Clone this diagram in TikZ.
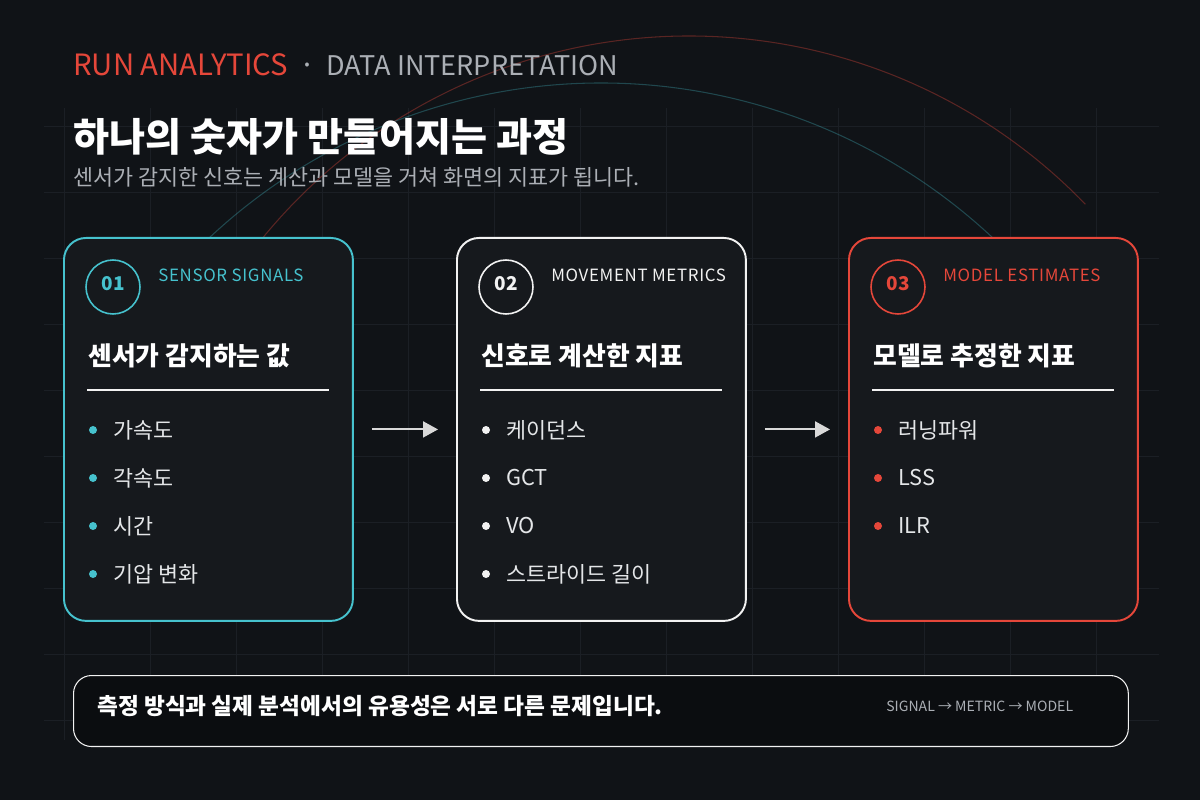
\documentclass[tikz,border=0pt]{standalone}
\usepackage{fontspec}
\setmainfont{Noto Sans CJK KR}
\usetikzlibrary{positioning,arrows.meta}

\definecolor{pagebg}{HTML}{101317}
\definecolor{cardbg}{HTML}{16191D}
\definecolor{barbg}{HTML}{0B0D10}
\definecolor{gridgray}{HTML}{1B1F25}
\definecolor{sensorteal}{HTML}{46C2CE}
\definecolor{metricwhite}{HTML}{F2F2F2}
\definecolor{modelred}{HTML}{E5473A}
\definecolor{mutedgray}{HTML}{ABAFB5}
\definecolor{itemgray}{HTML}{E4E6E8}
\definecolor{arrowgray}{HTML}{D9D9D9}

\begin{document}
\begin{tikzpicture}[
    x=0.02cm, y=-0.02cm,
    card/.style={draw=#1, fill=cardbg, line width=1.1pt, rounded corners=0.44cm,
        minimum width=5.78cm, minimum height=7.66cm, inner sep=0pt, anchor=north west},
    badge/.style={circle, draw=#1, text=#1, line width=0.9pt, minimum size=1.08cm,
        inner sep=0pt, text depth=0.16cm, font=\bfseries\fontsize{10.8}{12}\selectfont},
    tag/.style={text=#1, anchor=west, inner sep=0pt,
        font=\fontsize{9.6}{12}\selectfont\addfontfeatures{LetterSpace=4}},
    heading/.style={text=white, anchor=west, inner sep=0pt, font=\bfseries\fontsize{14.7}{17}\selectfont},
    bulletdot/.style={circle, fill=#1, inner sep=0pt, minimum size=0.16cm},
    itemtext/.style={text=itemgray, anchor=west, inner sep=0pt, font=\fontsize{12.4}{15}\selectfont},
    kicker/.style={inner sep=0pt, font=\fontsize{16.4}{20}\selectfont},
    flowarrow/.style={draw=arrowgray, line width=1.1pt, -{Triangle[length=0.3cm, width=0.32cm]}},
    gridline/.style={draw=gridgray, line width=0.5pt}
]
    % Background, grid and the two faint arcs
    \fill[pagebg] (0,0) rectangle (1200,800);
    \useasboundingbox (0,0) rectangle (1200,800);
    \foreach \gx in {64,150,...,1096} \draw[gridline] (\gx,108) -- (\gx,740);
    \foreach \gy in {126,192,...,720} \draw[gridline] (44,\gy) -- (1159,\gy);
    \draw[modelred, opacity=0.35, line width=0.6pt] ([shift={(689,587)}]-44:551) arc (-44:-142:551);
    \draw[sensorteal, opacity=0.3, line width=0.6pt] ([shift={(601,656)}]-40:573) arc (-40:-140:573);

    % Header
    \node[kicker, text=modelred, font=\fontsize{16.7}{20}\selectfont, anchor=base west] (kicker) at (73,76) {RUN ANALYTICS};
    \node[kicker, text=mutedgray, base right=0.22cm of kicker] (sep) {·};
    \node[kicker, text=mutedgray, font=\fontsize{15.4}{20}\selectfont, base right=0.2cm of sep] (section) {DATA INTERPRETATION};
    \node[anchor=base west, inner sep=0pt, text=white, font=\bfseries\fontsize{22.3}{26}\selectfont]
        (title) at (73,152) {하나의 숫자가 만들어지는 과정};
    \node[anchor=base west, inner sep=0pt, text=mutedgray, font=\fontsize{12.4}{15}\selectfont]
        (subtitle) at (73,186) {센서가 감지한 신호는 계산과 모델을 거쳐 화면의 지표가 됩니다.};

    % Three cards with their bullet lists
    \foreach \n/\x/\col/\tagtext/\head/\items in {
        1/63/sensorteal/SENSOR SIGNALS/센서가 감지하는 값/{가속도,각속도,시간,기압 변화},
        2/456/metricwhite/MOVEMENT METRICS/신호로 계산한 지표/{케이던스,GCT,VO,스트라이드 길이},
        3/848/modelred/MODEL ESTIMATES/모델로 추정한 지표/{러닝파워,LSS,ILR}} {
        \node[card=\col] (card\n) at (\x,237) {};
        \node[badge=\col] (badge\n) at (\x+50,287) {0\n};
        \node[tag=\col] (tag\n) at (\x+95,275) {\tagtext};
        \node[heading] (head\n) at (\x+25,356) {\head};
        \draw[metricwhite, line width=0.6pt] (\x+24,390) -- (\x+266,390);
        \foreach \itm [count=\k] in \items {
            \node[bulletdot=\col] (dot\n\k) at (\x+30,382+48*\k) {};
            \node[itemtext] (item\n\k) at (\x+50,382+48*\k) {\itm};
        }
    }

    % Arrows between the cards
    \draw[flowarrow] ([xshift=0.36cm]card1.east) -- ([xshift=-0.36cm]card2.west);
    \draw[flowarrow] ([xshift=0.36cm]card2.east) -- ([xshift=-0.36cm]card3.west);

    % Bottom note
    \node[draw=metricwhite, fill=barbg, line width=0.6pt, rounded corners=0.36cm, minimum width=21.1cm,
        minimum height=1.42cm, inner sep=0pt, anchor=north west] (note) at (73,675) {};
    \node[anchor=west, inner sep=0pt, text=white, font=\bfseries\fontsize{12.9}{15}\selectfont]
        (notetext) at (97,706) {측정 방식과 실제 분석에서의 유용성은 서로 다른 문제입니다.};
    \node[anchor=west, inner sep=0pt, text=mutedgray, font=\fontsize{8.0}{10}\selectfont]
        (chain) at (886,706) {SIGNAL → METRIC → MODEL};
\end{tikzpicture}
\end{document}
